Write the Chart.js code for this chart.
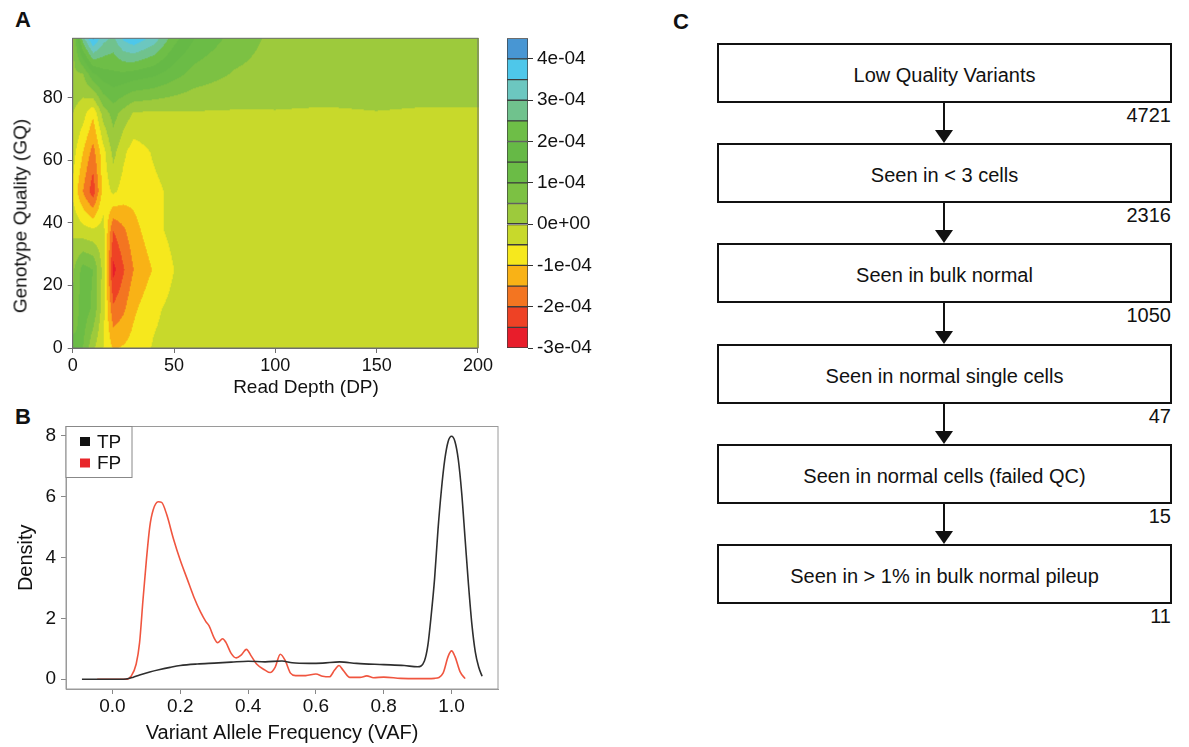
<!DOCTYPE html>
<html>
<head>
<meta charset="utf-8">
<title>Low quality variant filtering</title>
<script src="https://cdn.jsdelivr.net/npm/chart.js"></script>
<style>
  body { margin: 0; background: #fff; font-family: 'Liberation Sans', Arial, sans-serif; color: #111; }
  #page { position: relative; width: 1189px; height: 747px; overflow: hidden; }
  canvas { position: absolute; }
  .panel { position: absolute; font-weight: bold; font-size: 22px; line-height: 22px; }
  .title { position: absolute; font-size: 19px; line-height: 19px; white-space: nowrap; }
  .box { position: absolute; left: 717px; width: 455px; height: 60px; box-sizing: border-box; border: 2px solid #111;
         display: flex; align-items: center; justify-content: center; padding-top: 5px; font-size: 20px; }
  .count { position: absolute; left: 1071px; width: 100px; text-align: right; font-size: 20px; line-height: 20px; }
  .stem { position: absolute; left: 943px; width: 2px; background: #111; }
  .head { position: absolute; left: 935px; width: 0; height: 0; border-left: 9px solid transparent;
          border-right: 9px solid transparent; border-top: 13px solid #111; }
</style>
</head>
<body>
<div id="page">
  <div class="panel" style="left:15px;top:9px">A</div>
  <div class="panel" style="left:15px;top:406px">B</div>
  <div class="panel" style="left:673px;top:11px">C</div>

  <canvas id="chartA" width="495" height="400" style="left:0;top:0"></canvas>
  <canvas id="chartKey" width="110" height="400" style="left:495px;top:0"></canvas>
  <canvas id="chartB" width="510" height="347" style="left:0;top:400px"></canvas>

  <div class="title" style="left:306px;top:386px;transform:translate(-50%,-50%)">Read Depth (DP)</div>
  <div class="title" style="left:20px;top:216px;transform:translate(-50%,-50%) rotate(-90deg)">Genotype Quality (GQ)</div>

  <div id="flow"></div>
</div>

<script>
Chart.defaults.font.family = "'Liberation Sans', Arial, sans-serif";
Chart.defaults.color = '#111';

// ---- panel A: TP-FP density difference (units of 1e-4) on DP x GQ grid
const dpNodes = [0, 5, 10, 15, 20, 25, 30, 40, 50, 60, 80, 100, 125, 150, 175, 200];
const gqNodes = [0, 12.5, 25, 37.5, 50, 62.5, 75, 87.5, 99];

const gq0   = [1.2, 1.0, 0.1, -0.5, -1.05, -0.95, -0.8, -0.45, -0.3, -0.22, -0.2, -0.2, -0.2, -0.2, -0.2, -0.2];
const gq12  = [0.6, 1.3, 0.9, -0.3, -1.9, -1.6, -1.1, -0.6, -0.35, -0.25, -0.2, -0.2, -0.2, -0.2, -0.2, -0.2];
const gq25  = [0.4, 1.2, 1.0, -0.2, -2.65, -2.05, -1.5, -0.95, -0.5, -0.3, -0.2, -0.2, -0.2, -0.2, -0.2, -0.2];
const gq37  = [-0.1, -0.3, -0.4, -0.3, -2.0, -1.6, -1.2, -0.65, -0.35, -0.25, -0.2, -0.2, -0.2, -0.2, -0.2, -0.2];
const gq50  = [-0.6, -1.5, -2.3, -0.8, -0.4, -0.7, -0.8, -0.6, -0.4, -0.22, -0.2, -0.2, -0.2, -0.2, -0.2, -0.2];
const gq62  = [-0.3, -1.0, -1.7, -0.7, 0.15, -0.4, -0.75, -0.45, -0.25, -0.2, -0.2, -0.2, -0.2, -0.2, -0.2, -0.2];
const gq75  = [0.0, -0.3, -0.9, 0.2, 0.7, 0.3, -0.05, -0.1, -0.08, -0.05, -0.05, -0.03, -0.06, -0.02, -0.06, -0.05];
const gq87  = [0.4, 0.45, 1.4, 1.8, 1.9, 1.9, 1.8, 1.6, 1.2, 0.8, 0.45, 0.3, 0.3, 0.3, 0.3, 0.3];
const gq99  = [0.3, 2.8, 4.1, 3.2, 2.9, 3.6, 3.9, 3.3, 2.2, 1.5, 0.8, 0.35, 0.3, 0.3, 0.3, 0.3];
const diffRows = [gq0, gq12, gq25, gq37, gq50, gq62, gq75, gq87, gq99];

const levelEdges = [-3, -2.5, -2, -1.5, -1, -0.5, 0, 0.5, 1, 1.5, 2, 2.5, 3, 3.5, 4, 4.5];
const levelColors = ['#e81d2b', '#ee4225', '#f37521', '#f9b216', '#f6e81d', '#c8d92b', '#9dca3c', '#7cc143',
                     '#6bbc46', '#66b946', '#6ebe47', '#70c28d', '#6cc7c0', '#4ec7ea', '#4896d3'];
const colorTicks = [-3, -2, -1, 0, 1, 2, 3, 4];
const dpTicks = [0, 50, 100, 150, 200];
const gqTicks = [0, 20, 40, 60, 80];

// ---- panel B: VAF densities
const tpVaf = [-0.09, 0.0, 0.04, 0.06, 0.08, 0.11, 0.14, 0.17, 0.20, 0.25, 0.30, 0.35, 0.40, 0.45, 0.50, 0.53,
               0.58, 0.62, 0.67, 0.72, 0.80, 0.86, 0.90, 0.92, 0.93, 0.94, 0.95, 0.96, 0.97, 0.98, 0.99, 1.0,
               1.01, 1.02, 1.03, 1.04, 1.05, 1.06, 1.07, 1.08, 1.09];
const tpDensity = [0, 0, 0.01, 0.06, 0.14, 0.24, 0.32, 0.39, 0.45, 0.50, 0.53, 0.56, 0.59, 0.57, 0.60, 0.54,
                   0.52, 0.53, 0.57, 0.52, 0.48, 0.45, 0.41, 0.6, 1.1, 2.1, 3.3, 4.9, 6.2, 7.2, 7.8, 7.97,
                   7.8, 7.2, 6.1, 4.6, 3.1, 1.8, 0.9, 0.4, 0.1];
const fpVaf = [-0.045, 0.04, 0.055, 0.07, 0.08, 0.09, 0.10, 0.11, 0.12, 0.135, 0.145, 0.16, 0.18, 0.20, 0.22,
               0.24, 0.26, 0.275, 0.285, 0.30, 0.31, 0.325, 0.335, 0.35, 0.365, 0.38, 0.395, 0.41, 0.425, 0.45,
               0.465, 0.48, 0.495, 0.51, 0.525, 0.54, 0.57, 0.60, 0.62, 0.64, 0.655, 0.668, 0.68, 0.70, 0.73,
               0.75, 0.77, 0.80, 0.85, 0.90, 0.95, 0.975, 0.99, 1.0, 1.01, 1.025, 1.04];
const fpDensity = [0, 0, 0.1, 0.5, 1.2, 2.6, 3.9, 5.0, 5.55, 5.82, 5.8, 5.4, 4.6, 3.9, 3.3,
                   2.7, 2.2, 1.9, 1.75, 1.35, 1.2, 1.33, 1.2, 0.85, 0.7, 0.8, 0.98, 0.75, 0.5, 0.3,
                   0.22, 0.4, 0.82, 0.6, 0.2, 0.12, 0.12, 0.17, 0.1, 0.08, 0.3, 0.45, 0.3, 0.06, 0.06,
                   0.11, 0.05, 0.07, 0.03, 0.02, 0.03, 0.2, 0.75, 0.93, 0.75, 0.25, 0.02];
const vafTicks = [0, 0.2, 0.4, 0.6, 0.8, 1.0];
const densityTicks = [0, 2, 4, 6, 8];

// ---- panel C: filtering steps
const stepLabels = ['Low Quality Variants', 'Seen in < 3 cells', 'Seen in bulk normal', 'Seen in normal single cells',
                    'Seen in normal cells (failed QC)', 'Seen in > 1% in bulk normal pileup'];
const stepCounts = [4721, 2316, 1050, 47, 15, 11];


function fixTicks(vals) {
  return function(scale) { scale.ticks = vals.map(v => ({ value: v })); };
}

function findCell(nodes, v) {
  let i = 0;
  while (i < nodes.length - 2 && v > nodes[i + 1]) i++;
  const t = Math.min(1, Math.max(0, (v - nodes[i]) / (nodes[i + 1] - nodes[i])));
  return [i, t];
}

function sampleDiff(dp, gq) {
  const [i, tx] = findCell(dpNodes, dp);
  const [j, ty] = findCell(gqNodes, gq);
  const lo = diffRows[j][i] * (1 - tx) + diffRows[j][i + 1] * tx;
  const hi = diffRows[j + 1][i] * (1 - tx) + diffRows[j + 1][i + 1] * tx;
  return lo * (1 - ty) + hi * ty;
}

const levelRgb = levelColors.map(h => [1, 3, 5].map(k => parseInt(h.substr(k, 2), 16)));
function bandRgb(v) {
  let k = 0;
  while (k < levelRgb.length - 1 && v >= levelEdges[k + 1]) k++;
  return levelRgb[k];
}

// filled contour, sampled per pixel through the chart scales
const contourPlugin = {
  id: 'contour',
  beforeDatasetsDraw(chart) {
    const { ctx, chartArea: a } = chart;
    const xs = chart.scales.x, ys = chart.scales.y;
    const w = Math.ceil(a.right - a.left), h = Math.ceil(a.bottom - a.top);
    const off = document.createElement('canvas');
    off.width = w; off.height = h;
    const octx = off.getContext('2d');
    const img = octx.createImageData(w, h);
    for (let r = 0; r < h; r++) {
      const gq = ys.getValueForPixel(a.top + r + 0.5);
      for (let c = 0; c < w; c++) {
        const rgb = bandRgb(sampleDiff(xs.getValueForPixel(a.left + c + 0.5), gq));
        const k = (r * w + c) * 4;
        img.data[k] = rgb[0]; img.data[k + 1] = rgb[1]; img.data[k + 2] = rgb[2]; img.data[k + 3] = 255;
      }
    }
    octx.putImageData(img, 0, 0);
    ctx.drawImage(off, a.left, a.top);
  }
};

const framePlugin = {
  id: 'frame',
  afterDraw(chart, args, opts) {
    const { ctx, chartArea: a } = chart;
    ctx.save();
    ctx.strokeStyle = opts.color || '#777';
    ctx.lineWidth = 1;
    ctx.strokeRect(a.left, a.top, a.right - a.left, a.bottom - a.top);
    ctx.restore();
  }
};

const boxKeyPlugin = {
  id: 'boxKey',
  afterDraw(chart) {
    const { ctx, chartArea: a } = chart;
    ctx.save();
    ctx.fillStyle = '#fff';
    ctx.fillRect(a.left, a.top, 66, 51);
    ctx.strokeStyle = '#888';
    ctx.lineWidth = 1;
    ctx.strokeRect(a.left, a.top, 66, 51);
    ctx.font = "19px 'Liberation Sans', Arial, sans-serif";
    ctx.textBaseline = 'middle';
    chart.data.datasets.forEach((ds, i) => {
      const cy = a.top + 15 + i * 21.5;
      ctx.fillStyle = ds.backgroundColor;
      ctx.fillRect(a.left + 14, cy - 4.5, 10, 9);
      ctx.fillStyle = '#111';
      ctx.fillText(ds.label, a.left + 31, cy + 1);
    });
    ctx.restore();
  }
};

// panel A
new Chart(document.getElementById('chartA'), {
  type: 'scatter',
  data: { datasets: [{ data: [], pointRadius: 0 }] },
  options: {
    responsive: false,
    animation: false,
    layout: { padding: { left: 0, top: 38.3, right: 8.3, bottom: 0 } },
    plugins: { legend: { display: false }, tooltip: { enabled: false }, frame: { color: '#6e6e6e' } },
    scales: {
      x: {
        type: 'linear', min: 0, max: 200,
        afterBuildTicks: fixTicks(dpTicks),
        afterFit: s => { s.height = 52; },
        grid: { drawOnChartArea: false, tickLength: 5, color: '#6e6e6e' },
        border: { color: '#6e6e6e' },
        ticks: { font: { size: 18 }, padding: 2, maxRotation: 0, color: '#111' }
      },
      y: {
        type: 'linear', min: 0, max: 99,
        afterBuildTicks: fixTicks(gqTicks),
        afterFit: s => { s.width = 72.7; },
        grid: { drawOnChartArea: false, tickLength: 5, color: '#6e6e6e' },
        border: { color: '#6e6e6e' },
        ticks: { font: { size: 18 }, padding: 5, color: '#111' }
      }
    }
  },
  plugins: [contourPlugin, framePlugin]
});

// colour key for panel A
new Chart(document.getElementById('chartKey'), {
  type: 'bar',
  data: {
    labels: [''],
    datasets: levelColors.map((col, i) => ({
      data: [[levelEdges[i], levelEdges[i + 1]]],
      backgroundColor: col,
      borderColor: '#3d3d3d',
      borderWidth: 1,
      borderSkipped: false,
      barPercentage: 1,
      categoryPercentage: 1,
      grouped: false
    }))
  },
  options: {
    responsive: false,
    animation: false,
    layout: { padding: { left: 12, top: 38.3, right: 0, bottom: 52 } },
    plugins: { legend: { display: false }, tooltip: { enabled: false } },
    scales: {
      x: { display: false },
      y: {
        position: 'right', min: -3, max: 4.5,
        afterBuildTicks: fixTicks(colorTicks),
        afterFit: s => { s.width = 77; },
        grid: { drawOnChartArea: false, tickLength: 5, color: '#333' },
        border: { display: false },
        ticks: { font: { size: 19 }, padding: 4, color: '#111',
                 callback: v => v === 0 ? '0e+00' : v + 'e-04' }
      }
    }
  }
});

// panel B
new Chart(document.getElementById('chartB'), {
  type: 'line',
  data: {
    datasets: [
      { label: 'TP', data: tpVaf.map((v, i) => ({ x: v, y: tpDensity[i] })),
        borderColor: '#2e2e2e', backgroundColor: '#111', borderWidth: 1.6, pointRadius: 0,
        cubicInterpolationMode: 'monotone' },
      { label: 'FP', data: fpVaf.map((v, i) => ({ x: v, y: fpDensity[i] })),
        borderColor: '#f0553f', backgroundColor: '#e8262a', borderWidth: 1.6, pointRadius: 0,
        cubicInterpolationMode: 'monotone' }
    ]
  },
  options: {
    responsive: false,
    animation: false,
    layout: { padding: { left: 14, top: 26.5, right: 12, bottom: 2 } },
    plugins: { legend: { display: false }, tooltip: { enabled: false }, frame: { color: '#9a9a9a' } },
    scales: {
      x: {
        type: 'linear', min: -0.137, max: 1.137,
        afterBuildTicks: fixTicks(vafTicks),
        afterFit: s => { s.height = 56; },
        grid: { drawOnChartArea: false, tickLength: 5, color: '#888' },
        border: { color: '#9a9a9a' },
        ticks: { font: { size: 19 }, padding: 1, maxRotation: 0, color: '#111', callback: v => v.toFixed(1) },
        title: { display: true, text: 'Variant Allele Frequency (VAF)', font: { size: 20 }, padding: 0, color: '#111' }
      },
      y: {
        type: 'linear', min: -0.32, max: 8.29,
        afterBuildTicks: fixTicks(densityTicks),
        afterFit: s => { s.width = 52; },
        grid: { drawOnChartArea: false, tickLength: 5, color: '#888' },
        border: { color: '#9a9a9a' },
        ticks: { font: { size: 19 }, padding: 5, color: '#111' },
        title: { display: true, text: 'Density', font: { size: 20 }, padding: 0, color: '#111' }
      }
    }
  },
  plugins: [framePlugin, boxKeyPlugin]
});

// panel C flow chart
const flow = document.getElementById('flow');
stepLabels.forEach((txt, i) => {
  const top = Math.round(43 + i * 100.2);
  const box = document.createElement('div');
  box.className = 'box';
  box.style.top = top + 'px';
  box.textContent = txt;
  flow.appendChild(box);

  const cnt = document.createElement('div');
  cnt.className = 'count';
  cnt.style.top = (top + 62) + 'px';
  cnt.textContent = stepCounts[i];
  flow.appendChild(cnt);

  if (i < stepLabels.length - 1) {
    const next = Math.round(43 + (i + 1) * 100.2);
    const stem = document.createElement('div');
    stem.className = 'stem';
    stem.style.top = (top + 60) + 'px';
    stem.style.height = (next - top - 60 - 12) + 'px';
    flow.appendChild(stem);
    const head = document.createElement('div');
    head.className = 'head';
    head.style.top = (next - 13) + 'px';
    flow.appendChild(head);
  }
});
</script>
</body>
</html>
